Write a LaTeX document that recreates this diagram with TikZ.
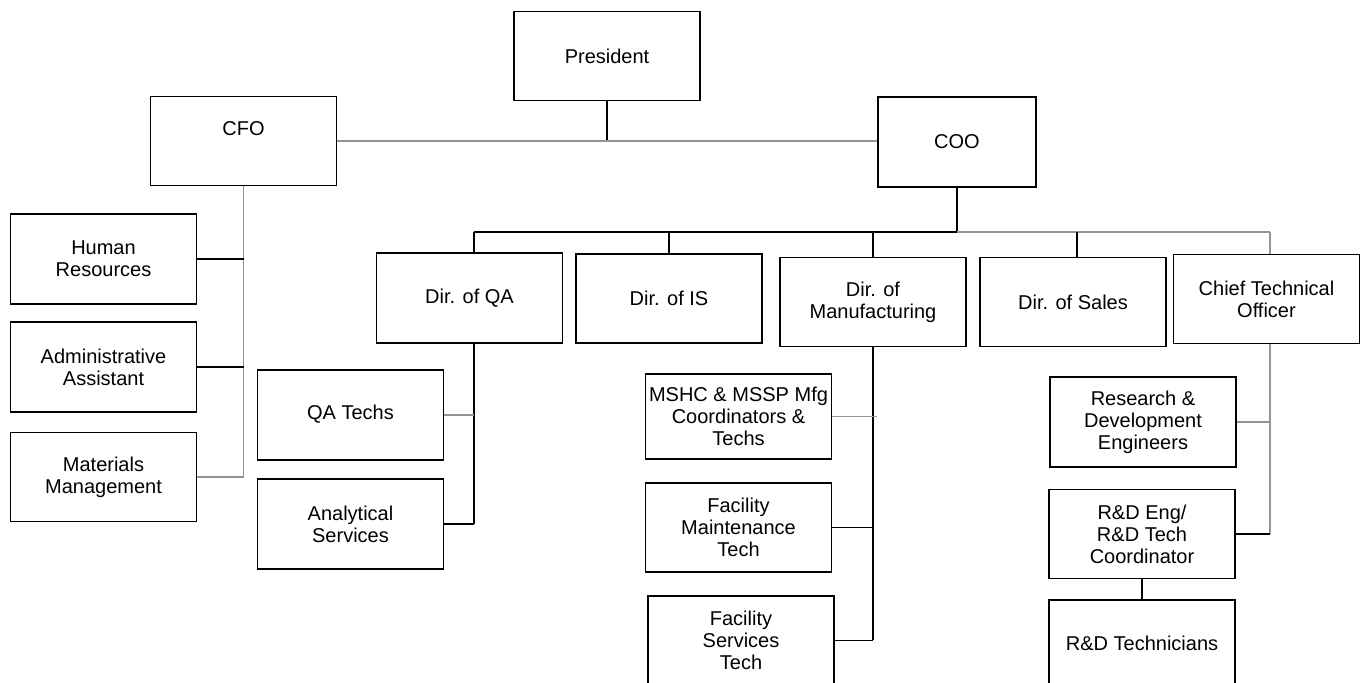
\documentclass[tikz,border=0pt]{standalone}
\usepackage{fontspec}
\setmainfont{Liberation Sans}
\begin{document}
\begin{tikzpicture}[x=0.5pt,y=-0.5pt,
  box/.style={draw, line width=0.75pt, rectangle, align=center, inner sep=0pt,
    minimum width=93pt, minimum height=44.5pt,
    font=\fontsize{10}{11}\selectfont},
  link/.style={draw, line width=0.75pt, black},
  glink/.style={draw, line width=0.75pt, black!42}]
\useasboundingbox (0,0) rectangle (1362,683);

\node[box] (pres) at (607,56) {President};
\node[box, text depth=12pt] (cfo) at (243.5,141) {CFO};
\node[box, minimum width=79pt, minimum height=45pt] (coo) at (957,142) {COO};

\node[box, minimum height=45pt] (hr) at (103.5,259) {Human\\Resources};
\node[box, minimum height=45pt] (admin) at (103.5,367) {Administrative\\Assistant};
\node[box] (mat) at (103.5,477) {Materials\\Management};

\node[box, minimum height=45pt] (dirqa) at (469.5,298) {Dir. of QA};
\node[box] (diris) at (669,298.5) {Dir. of IS};
\node[box] (dirmfg) at (873,302) {Dir. of\\Manufacturing};
\node[box] (dirsales) at (1073,302) {Dir. of Sales};
\node[box] (cto) at (1266.5,299) {Chief Technical\\Officer};

\node[box, minimum height=45pt, text depth=3pt] (qatech) at (350.5,415) {QA Techs};
\node[box, minimum height=45pt] (anal) at (350.5,524) {Analytical\\Services};

\node[box, minimum height=42.5pt] (mshc) at (738.5,416.5) {MSHC \& MSSP Mfg\\Coordinators \&\\Techs};
\node[box] (fmt) at (738.5,527.5) {Facility\\Maintenance\\Tech};
\node[box] (fst) at (741,640.5) {Facility\\Services\\Tech};

\node[box, minimum height=45pt] (rdeng) at (1143,422) {Research \&\\Development\\Engineers};
\node[box] (rdcoord) at (1142,534) {R\&D Eng/\\R\&D Tech\\Coordinator};
\node[box, minimum height=43pt] (rdtech) at (1142,643) {R\&D Technicians};

% top level
\path[link] (pres.south) -- (pres.south |- cfo.east);
\path[glink] (cfo.east) -- (cfo.east -| coo.west);

% CFO branch
\path[glink] (cfo.south) -- (cfo.south |- mat.east);
\path[link] (hr.east) -- (hr.east -| cfo.south);
\path[link] (admin.east) -- (admin.east -| cfo.south);
\path[glink] (mat.east) -- (mat.east -| cfo.south);

% COO branch
\coordinate (bus) at (957,232);
\coordinate (qastem) at ([xshift=2.25pt]dirqa.south);
\coordinate (ctostem) at ([xshift=1.75pt]cto.south);
\path[link] (coo.south) -- (bus);
\path[link] (qastem |- bus) -- (bus);
\path[glink] (bus) -- (ctostem |- bus);
\path[link] (qastem |- bus) -- (qastem |- dirqa.north);
\path[link] (diris.north |- bus) -- (diris.north);
\path[link] (dirmfg.north |- bus) -- (dirmfg.north);
\path[link] ([xshift=2pt]dirsales.north |- bus) -- ([xshift=2pt]dirsales.north);
\path[glink] (ctostem |- bus) -- (ctostem |- cto.north);

% QA
\path[link] (qastem) -- (qastem |- anal.east);
\path[glink] (qatech.east) -- (qatech.east -| qastem);
\path[link] (anal.east) -- (anal.east -| qastem);

% manufacturing
\path[link] (dirmfg.south) -- (dirmfg.south |- fst.east);
\path[glink] (mshc.east) -- ([xshift=2pt]mshc.east -| dirmfg.south);
\path[link] (fmt.east) -- (fmt.east -| dirmfg.south);
\path[link] (fst.east) -- (fst.east -| dirmfg.south);

% CTO
\path[glink] (ctostem) -- (ctostem |- rdcoord.east);
\path[glink] (rdeng.east) -- (rdeng.east -| ctostem);
\path[link] (rdcoord.east) -- (rdcoord.east -| ctostem);
\path[link] (rdcoord.south) -- (rdtech.north);
\end{tikzpicture}
\end{document}
